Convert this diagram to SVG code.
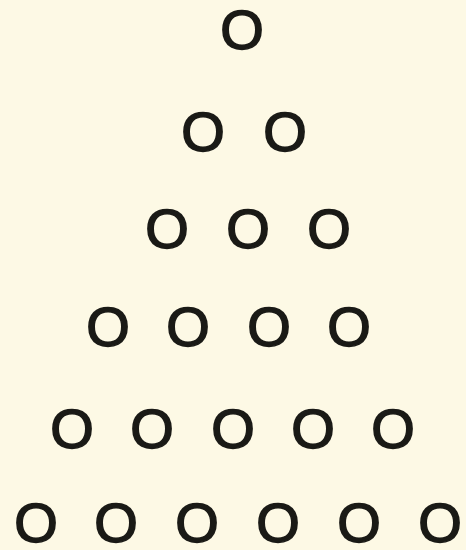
<svg xmlns="http://www.w3.org/2000/svg" width="466" height="550" viewBox="0 0 466 550">
<style>
.o{font-family:"Liberation Sans",Arial,sans-serif;font-size:56px;fill:#1a1a16;stroke:#1a1a16;stroke-width:1.6px;text-anchor:middle}
</style>
<rect width="466" height="550" fill="#fdf9e5"/>
<g id="row1">
<text class="o" x="242" y="49">O</text>
</g>
<g id="row2">
<text class="o" x="203" y="151">O</text>
<text class="o" x="285" y="151">O</text>
</g>
<g id="row3">
<text class="o" x="167" y="248">O</text>
<text class="o" x="248" y="248">O</text>
<text class="o" x="329" y="248">O</text>
</g>
<g id="row4">
<text class="o" x="108" y="346">O</text>
<text class="o" x="188" y="346">O</text>
<text class="o" x="269" y="346">O</text>
<text class="o" x="349" y="346">O</text>
</g>
<g id="row5">
<text class="o" x="72" y="448">O</text>
<text class="o" x="152" y="448">O</text>
<text class="o" x="233" y="448">O</text>
<text class="o" x="313" y="448">O</text>
<text class="o" x="393" y="448">O</text>
</g>
<g id="row6">
<text class="o" x="36" y="542">O</text>
<text class="o" x="116" y="542">O</text>
<text class="o" x="197" y="542">O</text>
<text class="o" x="278" y="542">O</text>
<text class="o" x="359" y="542">O</text>
<text class="o" x="440" y="542">O</text>
</g>
</svg>
